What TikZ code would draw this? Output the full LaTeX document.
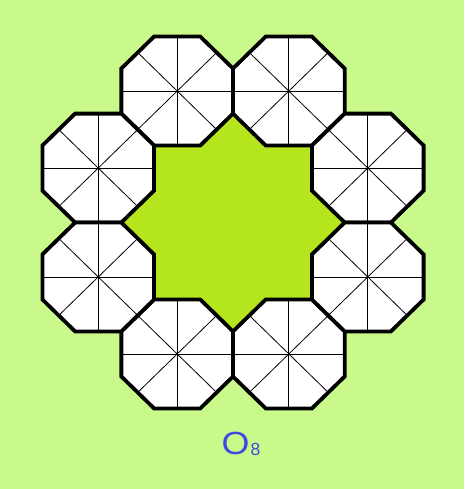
\documentclass[tikz,border=0pt]{standalone}
\usepackage{fontspec}
\newfontfamily\labfont{Liberation Sans}
\definecolor{bggreen}{HTML}{C9F98B}
\definecolor{stargreen}{HTML}{B5E61D}
\definecolor{labblue}{HTML}{3F48E0}
\newcommand\octagon[2]{%
  \begin{scope}[shift={(#1,#2)}]
    \fill[white] (22.5:59.53) -- (67.5:59.53) -- (112.5:59.53) -- (157.5:59.53) -- (202.5:59.53) -- (247.5:59.53) -- (292.5:59.53) -- (337.5:59.53) -- cycle;
    \draw[spoke] (-55,0) -- (55,0);
    \draw[spoke] (0,-55) -- (0,55);
    \draw[spoke] (45:55) -- (225:55);
    \draw[spoke] (135:55) -- (315:55);
    \draw[octoline] (22.5:59.53) -- (67.5:59.53) -- (112.5:59.53) -- (157.5:59.53) -- (202.5:59.53) -- (247.5:59.53) -- (292.5:59.53) -- (337.5:59.53) -- cycle;
  \end{scope}}
\begin{document}
\begin{tikzpicture}[x=1pt,y=-1pt,
  octoline/.style={draw=black,line width=3.8pt,line join=miter},
  spoke/.style={draw=black,line width=0.8pt}]
\fill[bggreen] (0,0) rectangle (464,489);
\useasboundingbox (0,0) rectangle (464,489);
\begin{scope}[shift={(233,222.5)},xscale=1.015,yscale=0.99]
% centre star (union of a square and a diamond)
  \fill[stargreen] (-77.78,-77.78) rectangle (77.78,77.78);
  \fill[stargreen] (0,-110) -- (110,0) -- (0,110) -- (-110,0) -- cycle;
% ring of octagons: w = 110, a = 132.78
\octagon{-55}{-132.78}
\octagon{55}{-132.78}
\octagon{-55}{132.78}
\octagon{55}{132.78}
\octagon{-132.78}{-55}
\octagon{-132.78}{55}
\octagon{132.78}{-55}
\octagon{132.78}{55}
\end{scope}
\node[text=labblue, font=\labfont\fontsize{32}{32}\selectfont, inner sep=0pt, anchor=base west] (lbl) at (221.5,454.5)
  {\scalebox{1.12}[1]{O}\kern1pt{\fontsize{17.5}{17.5}\selectfont\raisebox{-1.2pt}{8}}};
\end{tikzpicture}
\end{document}
